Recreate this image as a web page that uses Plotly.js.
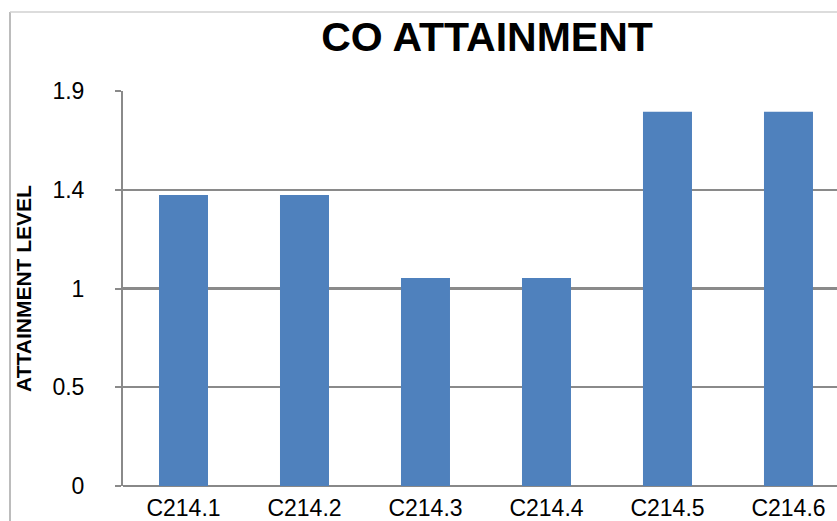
<!DOCTYPE html>
<html>
<head>
<meta charset="utf-8">
<script src="https://cdn.plot.ly/plotly-3.0.1.min.js"></script>
<style>
html,body{margin:0;padding:0;background:#fff;}
#chart{width:837px;height:521px;}
</style>
</head>
<body>
<div id="chart"></div>
<script>
const categories = ["C214.1", "C214.2", "C214.3", "C214.4", "C214.5", "C214.6"];
const attainment = [1.4, 1.4, 1.0, 1.0, 1.8, 1.8];
const yTickVals = [0, 0.475, 0.95, 1.425, 1.9];
const yTickText = ["0", "0.5", "1", "1.4", "1.9"];

const trace = {
  type: "bar",
  x: categories,
  y: attainment,
  width: 0.405,
  marker: {color: "#4f81bd"},
  hoverinfo: "x+y"
};

const layout = {
  width: 837,
  height: 521,
  margin: {l: 123, r: 0, t: 91, b: 35, pad: 0},
  paper_bgcolor: "#ffffff",
  plot_bgcolor: "#ffffff",
  showlegend: false,
  font: {family: "Liberation Sans, Arial, sans-serif", color: "#000"},
  title: {
    text: "<b>CO ATTAINMENT</b>",
    font: {family: "Liberation Sans, Arial, sans-serif", size: 41, color: "#000"},
    x: 487 / 837,
    xanchor: "center",
    xref: "container",
    yref: "container",
    y: 1 - 37 / 521,
    yanchor: "middle"
  },
  xaxis: {
    type: "category",
    range: [-0.5, 5.401],
    showgrid: false,
    zeroline: false,
    showline: false,
    ticks: "",
    tickfont: {size: 23, family: "Liberation Sans, Arial, sans-serif"},
    ticklabelstandoff: 6,
    fixedrange: true
  },
  yaxis: {
    range: [0, 1.9],
    tickmode: "array",
    tickvals: yTickVals,
    ticktext: yTickText,
    showgrid: true,
    gridcolor: "#8a8a8a",
    gridwidth: 2.2,
    zeroline: true,
    zerolinecolor: "#888888",
    zerolinewidth: 2.5,
    showline: true,
    linecolor: "#8a8a8a",
    linewidth: 2,
    ticks: "outside",
    ticklen: 6,
    tickwidth: 2,
    tickcolor: "#8a8a8a",
    ticklabelstandoff: 26,
    tickfont: {size: 23, family: "Liberation Sans, Arial, sans-serif"},
    title: {
      text: "<b>ATTAINMENT LEVEL</b>",
      font: {size: 21, family: "Liberation Sans, Arial, sans-serif", color: "#000"},
      standoff: 15
    },
    fixedrange: true
  },
  shapes: [
    {type: "line", xref: "paper", yref: "paper",
     x0: (10 - 123) / 714, x1: (10 - 123) / 714, y0: -0.2, y1: (486 - 12) / 395,
     line: {color: "#a6a6a6", width: 1.5}, layer: "above"},
    {type: "line", xref: "paper", yref: "paper",
     x0: (10 - 123) / 714, x1: 1.1, y0: (486 - 12) / 395, y1: (486 - 12) / 395,
     line: {color: "#d0d0d0", width: 1.5}, layer: "above"}
  ]
};

Plotly.newPlot("chart", [trace], layout, {displayModeBar: false, staticPlot: true});
</script>
</body>
</html>
